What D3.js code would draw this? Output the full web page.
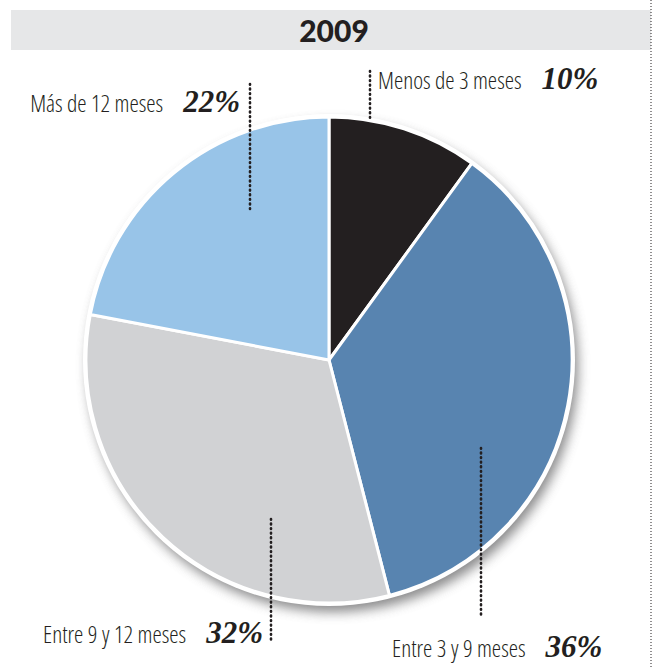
<!DOCTYPE html>
<html>
<head>
<meta charset="utf-8">
<script src="https://cdn.jsdelivr.net/npm/d3@7"></script>
<style>
  body { margin: 0; background: #fff; }
  .lbl { font-family: "Open Sans", sans-serif; font-stretch: semi-condensed; font-weight: 350; font-size: 23.5px; fill: #231f20; }
  .pct { font-family: "Liberation Serif", serif; font-style: italic; font-weight: bold; font-size: 31px; fill: #231f20; }
</style>
</head>
<body>
<svg width="653" height="669"></svg>
<script>
// datos
var title = "2009";
var categories = ["Menos de 3 meses", "Entre 3 y 9 meses", "Entre 9 y 12 meses", "Más de 12 meses"];
var values = [10, 36, 32, 22];
var colors = ["#231f20", "#5884b0", "#d1d2d4", "#98c4e8"];

var svg = d3.select("svg"),
    cx = 329, cy = 360, r = 243;

// barra del título
svg.append("rect").attr("x", 11).attr("y", 10).attr("width", 640).attr("height", 40).attr("fill", "#e6e7e8");
svg.append("text")
  .attr("x", 334).attr("y", 42)
  .attr("text-anchor", "middle")
  .style("font-family", "Lato, 'Liberation Sans', sans-serif")
  .style("font-weight", "900")
  .style("font-size", "30px")
  .style("fill", "#231f20")
  .text(title);

// línea punteada a la derecha
svg.append("line")
  .attr("x1", 651).attr("x2", 651).attr("y1", 0).attr("y2", 669)
  .attr("stroke", "#231f20").attr("stroke-width", 1)
  .attr("stroke-dasharray", "1 2");

var defs = svg.append("defs");
var f = defs.append("filter").attr("id", "sh").attr("x", "-20%").attr("y", "-20%").attr("width", "140%").attr("height", "140%");
f.append("feGaussianBlur").attr("stdDeviation", 6);

var g = svg.append("g").attr("transform", "translate(" + cx + "," + cy + ")");

// sombra
g.append("circle").attr("cx", 4).attr("cy", 7).attr("r", r + 2)
  .attr("fill", "#6e6e70").attr("opacity", 0.8).attr("filter", "url(#sh)");
g.append("circle").attr("r", r + 3).attr("fill", "#fff");

var pie = d3.pie().sort(null).value(function (d) { return d; });
var arc = d3.arc().innerRadius(0).outerRadius(r);
var arcs = pie(values);

g.selectAll("path.slice")
  .data(arcs)
  .enter().append("path")
  .attr("class", "slice")
  .attr("d", arc)
  .attr("fill", function (d, i) { return colors[i]; })
  .attr("stroke", "#fff")
  .attr("stroke-width", 3)
  .attr("stroke-linejoin", "round");

// etiquetas: posición de la guía y del texto
var labels = [
  { lx: 370, y1: 71, y2: 120, tx: 378, ty: 89, anchor: "start" },
  { lx: 481, y1: 448, y2: 617, tx: 392, ty: 657, anchor: "start" },
  { lx: 271, y1: 519, y2: 643, tx: 263, ty: 643, anchor: "end" },
  { lx: 250, y1: 84, y2: 210, tx: 240, ty: 112, anchor: "end" }
];

labels.forEach(function (l, i) {
  svg.append("line")
    .attr("x1", l.lx).attr("x2", l.lx).attr("y1", l.y1).attr("y2", l.y2)
    .attr("stroke", "#231f20").attr("stroke-width", 2.6)
    .attr("stroke-linecap", "round")
    .attr("stroke-dasharray", "0.8 3.8");
  var t = svg.append("text").attr("x", l.tx).attr("y", l.ty).attr("text-anchor", l.anchor);
  t.append("tspan").attr("class", "lbl").text(categories[i]);
  t.append("tspan").attr("class", "pct").attr("dx", 20).text(values[i] + "%");
});
</script>
</body>
</html>
